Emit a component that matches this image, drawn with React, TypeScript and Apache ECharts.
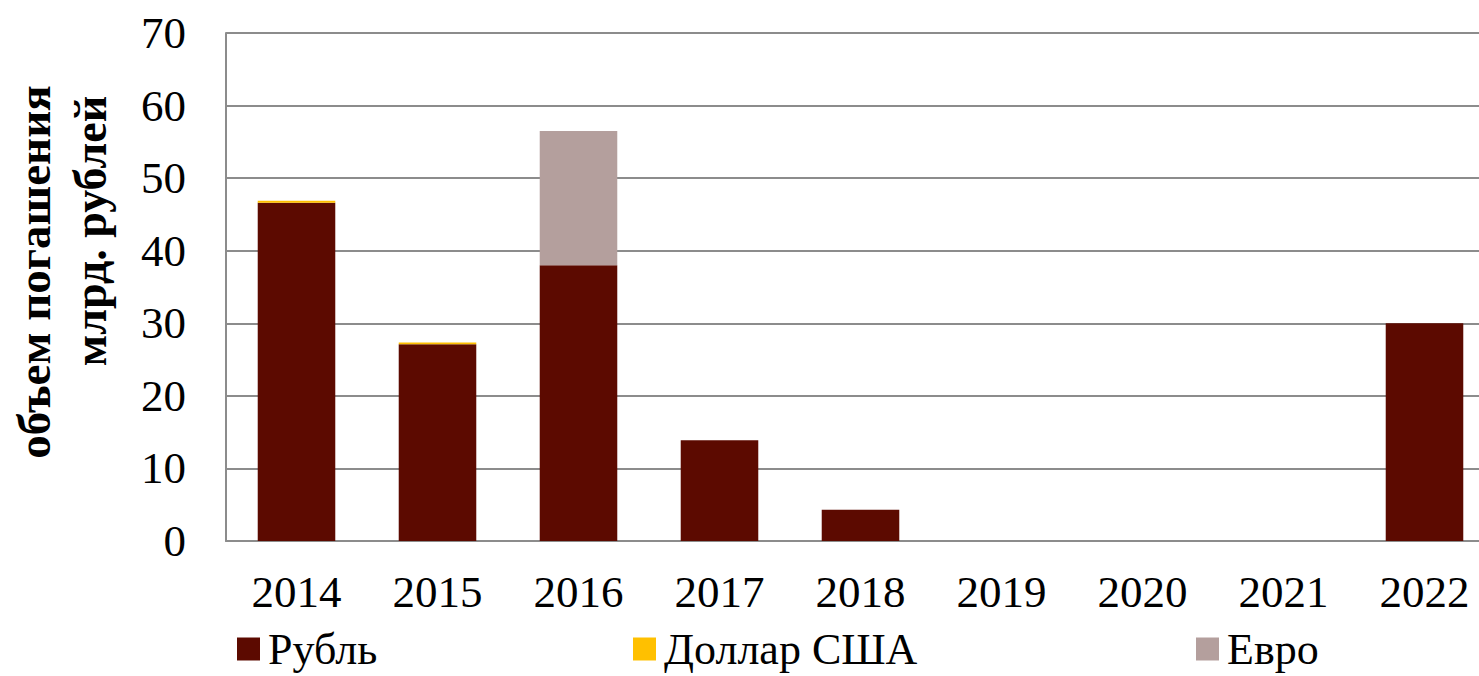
import React, { useEffect, useRef } from "react";
import * as echarts from "echarts";

const years = ["2014", "2015", "2016", "2017", "2018", "2019", "2020", "2021", "2022"];
const rubleValues = [46.6, 27.1, 38.0, 13.9, 4.3, 0, 0, 0, 30.0];
const dollarValues = [0.3, 0.25, 0, 0, 0, 0, 0, 0, 0];
const euroValues = [0, 0, 18.5, 0, 0, 0, 0, 0, 0];
const seriesNames = ["Рубль", "Доллар США", "Евро"];
const titleLines = ["объем погашения", "млрд. рублей"];

const FONT = "'Liberation Serif', 'Times New Roman', serif";

export default function App() {
  const ref = useRef<HTMLDivElement>(null);
  useEffect(() => {
    const chart = echarts.init(ref.current!, null, { renderer: "svg" });
    const legendText = { fontFamily: FONT, fontSize: 44, color: "#000", lineHeight: 46 };
    const mkLegend = (name: string, left: number) => ({
      data: [name],
      left,
      top: 626,
      orient: "horizontal",
      itemWidth: 23,
      itemHeight: 23,
      itemGap: 0,
      icon: "rect",
      padding: 0,
      textStyle: { ...legendText, padding: [0, 0, 0, 3] },
    });
    chart.setOption({
      animation: false,
      backgroundColor: "#fff",
      grid: { left: 226, top: 33, width: 1269, bottom: 135, containLabel: false },
      legend: [mkLegend(seriesNames[0], 237), mkLegend(seriesNames[1], 633), mkLegend(seriesNames[2], 1196)],
      xAxis: {
        type: "category",
        data: years,
        axisLine: { lineStyle: { color: "#8c8c8c", width: 2 } },
        axisTick: { inside: true, length: 14, alignWithLabel: false, lineStyle: { color: "#8c8c8c", width: 2 } },
        axisLabel: { fontFamily: FONT, fontSize: 45, color: "#000", margin: 28 },
      },
      yAxis: {
        type: "value",
        min: 0,
        max: 70,
        interval: 10,
        axisLine: { show: true, lineStyle: { color: "#8c8c8c", width: 2 } },
        axisTick: { show: true, inside: true, length: 14, lineStyle: { color: "#8c8c8c", width: 2 } },
        splitLine: { lineStyle: { color: "#8c8c8c", width: 2 } },
        axisLabel: { fontFamily: FONT, fontSize: 45, color: "#000", margin: 40 },
      },
      graphic: [
        {
          type: "text",
          x: 34,
          y: 272,
          rotation: Math.PI / 2,
          style: {
            text: titleLines[0],
            fontFamily: FONT,
            fontWeight: "bold",
            fontSize: 47,
            fill: "#000",
            textAlign: "center",
            textVerticalAlign: "middle",
          },
        },
        {
          type: "text",
          x: 90,
          y: 231,
          rotation: Math.PI / 2,
          style: {
            text: titleLines[1],
            fontFamily: FONT,
            fontWeight: "bold",
            fontSize: 46,
            fill: "#000",
            textAlign: "center",
            textVerticalAlign: "middle",
          },
        },
      ],
      series: [
        { name: seriesNames[0], type: "bar", stack: "a", data: rubleValues, barWidth: "55%", itemStyle: { color: "#5c0a00" } },
        { name: seriesNames[1], type: "bar", stack: "a", data: dollarValues, itemStyle: { color: "#ffc000" } },
        { name: seriesNames[2], type: "bar", stack: "a", data: euroValues, itemStyle: { color: "#b49f9d" } },
      ],
    });
    return () => chart.dispose();
  }, []);
  return (
    <div style={{ position: "fixed", left: 0, top: 0, width: 1479, height: 676, overflow: "hidden" }}>
      <div ref={ref} style={{ width: 1500, height: 676 }} />
    </div>
  );
}
